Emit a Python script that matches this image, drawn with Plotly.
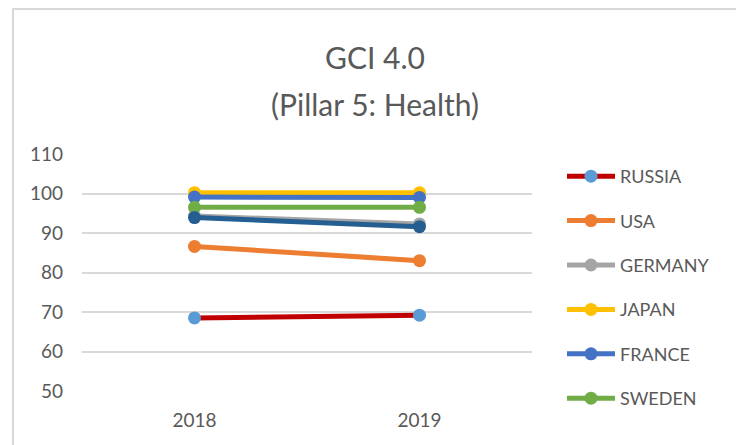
import plotly.graph_objects as go

years = ["2018", "2019"]
series_names = ["RUSSIA", "USA", "GERMANY", "JAPAN", "FRANCE", "SWEDEN", ""]
russia = [68.5, 69.2]
usa = [86.6, 83.0]
germany = [94.3, 92.3]
japan = [100.2, 100.2]
france = [99.1, 99.0]
sweden = [96.5, 96.5]
extra = [93.9, 91.6]

line_colors = ["#C00000", "#ED7D31", "#A5A5A5", "#FFC000", "#4472C4", "#70AD47", "#255E91"]
marker_colors = ["#5B9BD5", "#ED7D31", "#A5A5A5", "#FFC000", "#4472C4", "#70AD47", "#255E91"]
values = [russia, usa, germany, japan, france, sweden, extra]
show_leg = [True, True, True, True, True, True, False]

FONT = "Lato"
TXT = "#595959"

fig = go.Figure()
for i, (name, vals) in enumerate(zip(series_names, values)):
    fig.add_trace(go.Scatter(
        x=[0, 1], y=vals, name=name, mode="lines+markers",
        line=dict(color=line_colors[i], width=5),
        marker=dict(color=marker_colors[i], size=13),
        showlegend=show_leg[i], legendgroup=f"g{i}",
    ))

# plot area in pixels: x 82..532, y 154..391
L, R, T, B = 82, 736 - 532, 154, 445 - 391
pw, ph = 736 - L - R, 445 - T - B

def px_x(p):
    return (p - L) / pw

def px_y(p):
    return (445 - B - p) / ph

fig.update_layout(
    width=736, height=445,
    margin=dict(l=L, r=R, t=T, b=B, pad=0),
    paper_bgcolor="white", plot_bgcolor="white",
    font=dict(family=FONT, color=TXT, size=19),
    xaxis=dict(range=[-0.5, 1.5], tickvals=[0, 1], ticktext=years, showgrid=False,
               zeroline=False, showline=False, ticks="", ticklabelstandoff=16,
               tickfont=dict(size=19, color=TXT)),
    yaxis=dict(range=[50, 110], dtick=10, showgrid=True, gridcolor="#D9D9D9", gridwidth=2,
               zeroline=False, showline=False, ticks="", ticklabelstandoff=18,
               tickfont=dict(size=19, color=TXT)),
    legend=dict(x=px_x(562), xanchor="left", y=px_y(158), yanchor="top",
                traceorder="grouped", tracegroupgap=18, maxheight=400, itemwidth=48,
                font=dict(size=18, color=TXT, family=FONT), bgcolor="rgba(0,0,0,0)"),
    showlegend=True,
)

title_lines = ["GCI 4.0", "(Pillar 5: Health)"]
for txt, yc in zip(title_lines, [57, 104]):
    fig.add_annotation(text=txt, xref="paper", yref="paper", x=px_x(375), y=px_y(yc),
                       xanchor="center", yanchor="middle", showarrow=False,
                       font=dict(size=30, color=TXT, family=FONT))

# chart-area border
fig.add_shape(type="rect", xref="paper", yref="paper",
              x0=px_x(13), x1=px_x(760), y0=px_y(470), y1=px_y(9),
              line=dict(color="#D9D9D9", width=2), fillcolor="rgba(0,0,0,0)", layer="below")

fig.write_html("out.html", config={"displayModeBar": False},
               post_script="document.body.style.margin='0';")
